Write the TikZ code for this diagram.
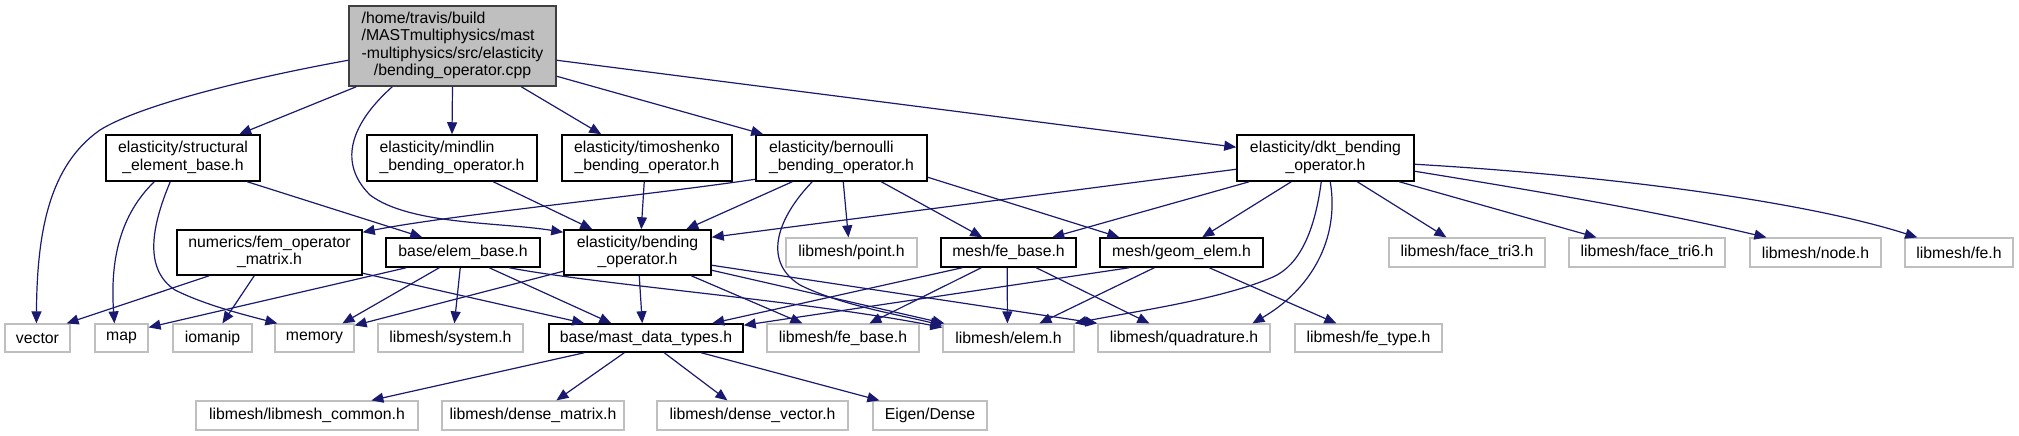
\documentclass[tikz,border=0pt]{standalone}
\usepackage{fontspec}
\setmainfont{Liberation Sans}
\usetikzlibrary{arrows.meta}
\definecolor{edgecol}{RGB}{25,25,112}
\definecolor{gborder}{RGB}{191,191,191}
\definecolor{rootfill}{RGB}{191,191,191}
\definecolor{rootborder}{RGB}{64,64,64}
\newcommand\bx[7]{\pgfmathsetmacro\bxw{#5-#3}\pgfmathsetmacro\bxh{#6-#4}\node[#1,minimum width=\bxw pt,minimum height=\bxh pt] (#2) at ({(#3+#5)/2},{(#4+#6)/2}) {#7};}
\newcommand\twol[2]{\begin{tabular}{@{}l@{}}#1\\\multicolumn{1}{@{}c@{}}{#2}\end{tabular}}
\tikzset{
  every node/.style={font=\fontsize{15.8}{17.3}\selectfont, inner sep=0pt, rectangle},
  blk/.style={draw=black, line width=1.5pt, fill=white},
  gry/.style={draw=gborder, line width=1.2pt, fill=white},
  rootbox/.style={draw=rootborder, fill=rootfill, line width=1.5pt},
  conn/.style={draw=edgecol, line width=1.2pt, -{Triangle[length=12pt,width=10pt]}},
}
\begin{document}
\begin{tikzpicture}[x=1pt,y=-1pt]
\useasboundingbox (0,0) rectangle (2019,436);
% nodes
\bx{rootbox}{root}{349}{6}{556}{86}{\begin{tabular}{@{}l@{}}/home/travis/build\\/MASTmultiphysics/mast\\-multiphysics/src/elasticity\\\multicolumn{1}{@{}c@{}}{/bending\_operator.cpp}\end{tabular}}
\bx{blk}{struct}{106}{135}{260}{181}{\twol{elasticity/structural}{\_element\_base.h}}
\bx{blk}{mindlin}{367}{135}{537}{181}{\twol{elasticity/mindlin}{\_bending\_operator.h}}
\bx{blk}{timo}{562}{135}{732}{181}{\twol{elasticity/timoshenko}{\_bending\_operator.h}}
\bx{blk}{bern}{756}{135}{927}{181}{\twol{elasticity/bernoulli}{\_bending\_operator.h}}
\bx{blk}{dkt}{1237}{135}{1414}{181}{\twol{elasticity/dkt\_bending}{\_operator.h}}
\bx{blk}{fem}{177}{230}{362}{275}{\twol{numerics/fem\_operator}{\_matrix.h}}
\bx{blk}{elembase}{386}{238}{540}{267}{base/elem\_base.h}
\bx{blk}{bendop}{564}{230}{711}{275}{\twol{elasticity/bending}{\_operator.h}}
\bx{gry}{point}{786}{238}{917}{267}{libmesh/point.h}
\bx{blk}{mfebase}{941}{238}{1076}{267}{mesh/fe\_base.h}
\bx{blk}{geom}{1100}{238}{1263}{267}{mesh/geom\_elem.h}
\bx{gry}{tri3}{1389}{238}{1545}{267}{libmesh/face\_tri3.h}
\bx{gry}{tri6}{1569}{238}{1725}{267}{libmesh/face\_tri6.h}
\bx{gry}{nodeh}{1750}{238}{1881}{267}{libmesh/node.h}
\bx{gry}{fe}{1905}{238}{2013}{267}{libmesh/fe.h}
\bx{gry}{vector}{5}{324}{70}{352}{vector}
\bx{gry}{map}{95}{324}{148}{352}{map}
\bx{gry}{iomanip}{173}{324}{252}{352}{iomanip}
\bx{gry}{memory}{275}{324}{354}{352}{memory}
\bx{gry}{system}{378}{324}{523}{352}{libmesh/system.h}
\bx{blk}{mast}{549}{324}{743}{352}{base/mast\_data\_types.h}
\bx{gry}{lfebase}{767}{324}{919}{352}{libmesh/fe\_base.h}
\bx{gry}{elem}{943}{324}{1074}{352}{libmesh/elem.h}
\bx{gry}{quad}{1098}{324}{1270}{352}{libmesh/quadrature.h}
\bx{gry}{fetype}{1295}{324}{1442}{352}{libmesh/fe\_type.h}
\bx{gry}{common}{196}{401}{418}{430}{libmesh/libmesh\_common.h}
\bx{gry}{dmatrix}{442}{401}{624}{430}{libmesh/dense\_matrix.h}
\bx{gry}{dvector}{657}{401}{848}{430}{libmesh/dense\_vector.h}
\bx{gry}{eigen}{873}{401}{987}{430}{Eigen/Dense}
% edges from root
\draw[conn] ([yshift=-55pt]root.north west) .. controls (250,78) and (140,105) .. (100,130) .. controls (50,165) and (37,230) .. ([xshift=32pt]vector.north west);
\draw[conn] ([xshift=8pt]root.south west) -- ([xshift=134pt]struct.north west);
\draw[conn] ([xshift=44pt]root.south west) .. controls (355,120) and (335,160) .. (370,195) .. controls (410,225) and (500,222) .. ([yshift=-3pt]bendop.north west);
\draw[conn] (root.south) -- (mindlin.north);
\draw[conn] ([xshift=173pt]root.south west) -- ([xshift=40pt]timo.north west);
\draw[conn] ([yshift=-71pt]root.north east) -- ([xshift=8pt]bern.north west);
\draw[conn] ([yshift=-55pt]root.north east) -- ([yshift=-13pt]dkt.north west);
% struct
\draw[conn] ([xshift=49pt]struct.south west) .. controls (120,215) and (110,260) .. ([xshift=20pt]map.north west);
\draw[conn] ([xshift=65pt]struct.south west) .. controls (150,230) and (145,270) .. (175,290) .. controls (205,305) and (245,315) .. ([xshift=3pt]memory.north west);
\draw[conn] ([xshift=142pt]struct.south west) -- ([xshift=37pt]elembase.north west);
% mindlin, timoshenko
\draw[conn] ([xshift=127pt]mindlin.south west) -- ([xshift=29pt]bendop.north west);
\draw[conn] ([xshift=83pt]timo.south west) -- ([xshift=78pt]bendop.north west);
% bernoulli
\draw[conn] ([yshift=-45pt]bern.north west) .. controls (650,195) and (450,215) .. ([yshift=-3pt]fem.north east);
\draw[conn] ([xshift=37pt]bern.south west) -- ([xshift=123pt]bendop.north west);
\draw[conn] ([xshift=57pt]bern.south west) .. controls (780,215) and (760,260) .. (800,285) .. controls (840,305) and (900,315) .. ([yshift=-2pt]elem.north west);
\draw[conn] ([xshift=88pt]bern.south west) -- ([xshift=63pt]point.north west);
\draw[conn] ([xshift=126pt]bern.south west) -- ([xshift=42pt]mfebase.north west);
\draw[conn] ([yshift=-43pt]bern.north east) -- ([xshift=20pt]geom.north west);
% dkt
\draw[conn] ([yshift=-35pt]dkt.north west) -- ([yshift=-8pt]bendop.north east);
\draw[conn] ([xshift=13pt]dkt.south west) -- ([xshift=112pt]mfebase.north west);
\draw[conn] ([xshift=55pt]dkt.south west) -- ([xshift=103pt]geom.north west);
\draw[conn] ([xshift=85pt]dkt.south west) .. controls (1315,230) and (1300,265) .. (1273,277) .. controls (1220,300) and (1130,312) .. (elem.north east);
\draw[conn] ([xshift=94pt]dkt.south west) .. controls (1340,240) and (1310,290) .. ([xshift=155pt]quad.north west);
\draw[conn] ([xshift=121pt]dkt.south west) -- ([xshift=58pt]tri3.north west);
\draw[conn] ([xshift=163pt]dkt.south west) -- ([xshift=28pt]tri6.north west);
\draw[conn] ([yshift=-37pt]dkt.north east) .. controls (1530,190) and (1650,210) .. ([xshift=17pt]nodeh.north west);
\draw[conn] ([yshift=-30pt]dkt.north east) .. controls (1600,175) and (1800,200) .. ([xshift=13pt]fe.north west);
% fem
\draw[conn] ([xshift=33pt]fem.south west) -- ([xshift=-4pt]vector.north east);
\draw[conn] ([xshift=78pt]fem.south west) -- ([xshift=50pt]iomanip.north west);
\draw[conn] ([yshift=-44pt]fem.north east) -- ([xshift=36pt]mast.north west);
% elem_base
\draw[conn] ([xshift=21pt]elembase.south west) -- ([yshift=-4pt]map.north east);
\draw[conn] ([xshift=54pt]elembase.south west) -- ([xshift=68pt]memory.north west);
\draw[conn] ([xshift=75pt]elembase.south west) -- ([xshift=77pt]system.north west);
\draw[conn] ([xshift=104pt]elembase.south west) -- ([xshift=63pt]mast.north west);
\draw[conn] ([xshift=124pt]elembase.south west) .. controls (600,285) and (800,300) .. ([yshift=-4pt]elem.north west);
% bending operator
\draw[conn] ([yshift=-42pt]bendop.north west) -- ([yshift=-2pt]memory.north east);
\draw[conn] ([xshift=76pt]bendop.south west) -- ([xshift=94pt]mast.north west);
\draw[conn] ([xshift=128pt]bendop.south west) -- ([xshift=36pt]lfebase.north west);
\draw[conn] ([yshift=-41pt]bendop.north east) -- ([xshift=2pt]elem.north west);
\draw[conn] ([yshift=-36pt]bendop.north east) -- (quad.north west);
% mesh/fe_base
\draw[conn] ([xshift=22pt]mfebase.south west) -- ([xshift=164pt]mast.north west);
\draw[conn] ([xshift=41pt]mfebase.south west) -- ([xshift=103pt]lfebase.north west);
\draw[conn] ([xshift=67pt]mfebase.south west) -- ([xshift=65pt]elem.north west);
\draw[conn] ([xshift=96pt]mfebase.south west) -- ([xshift=52pt]quad.north west);
% geom_elem
\draw[conn] ([xshift=30pt]geom.south west) -- ([yshift=-2pt]mast.north east);
\draw[conn] ([xshift=55pt]geom.south west) -- ([xshift=97pt]elem.north west);
\draw[conn] ([xshift=110pt]geom.south west) -- ([xshift=42pt]fetype.north west);
% mast_data_types
\draw[conn] ([xshift=36pt]mast.south west) -- ([xshift=176pt]common.north west);
\draw[conn] ([xshift=76pt]mast.south west) -- ([xshift=115pt]dmatrix.north west);
\draw[conn] ([xshift=116pt]mast.south west) -- ([xshift=71pt]dvector.north west);
\draw[conn] ([xshift=153pt]mast.south west) -- ([xshift=7pt]eigen.north west);
\end{tikzpicture}
\end{document}
